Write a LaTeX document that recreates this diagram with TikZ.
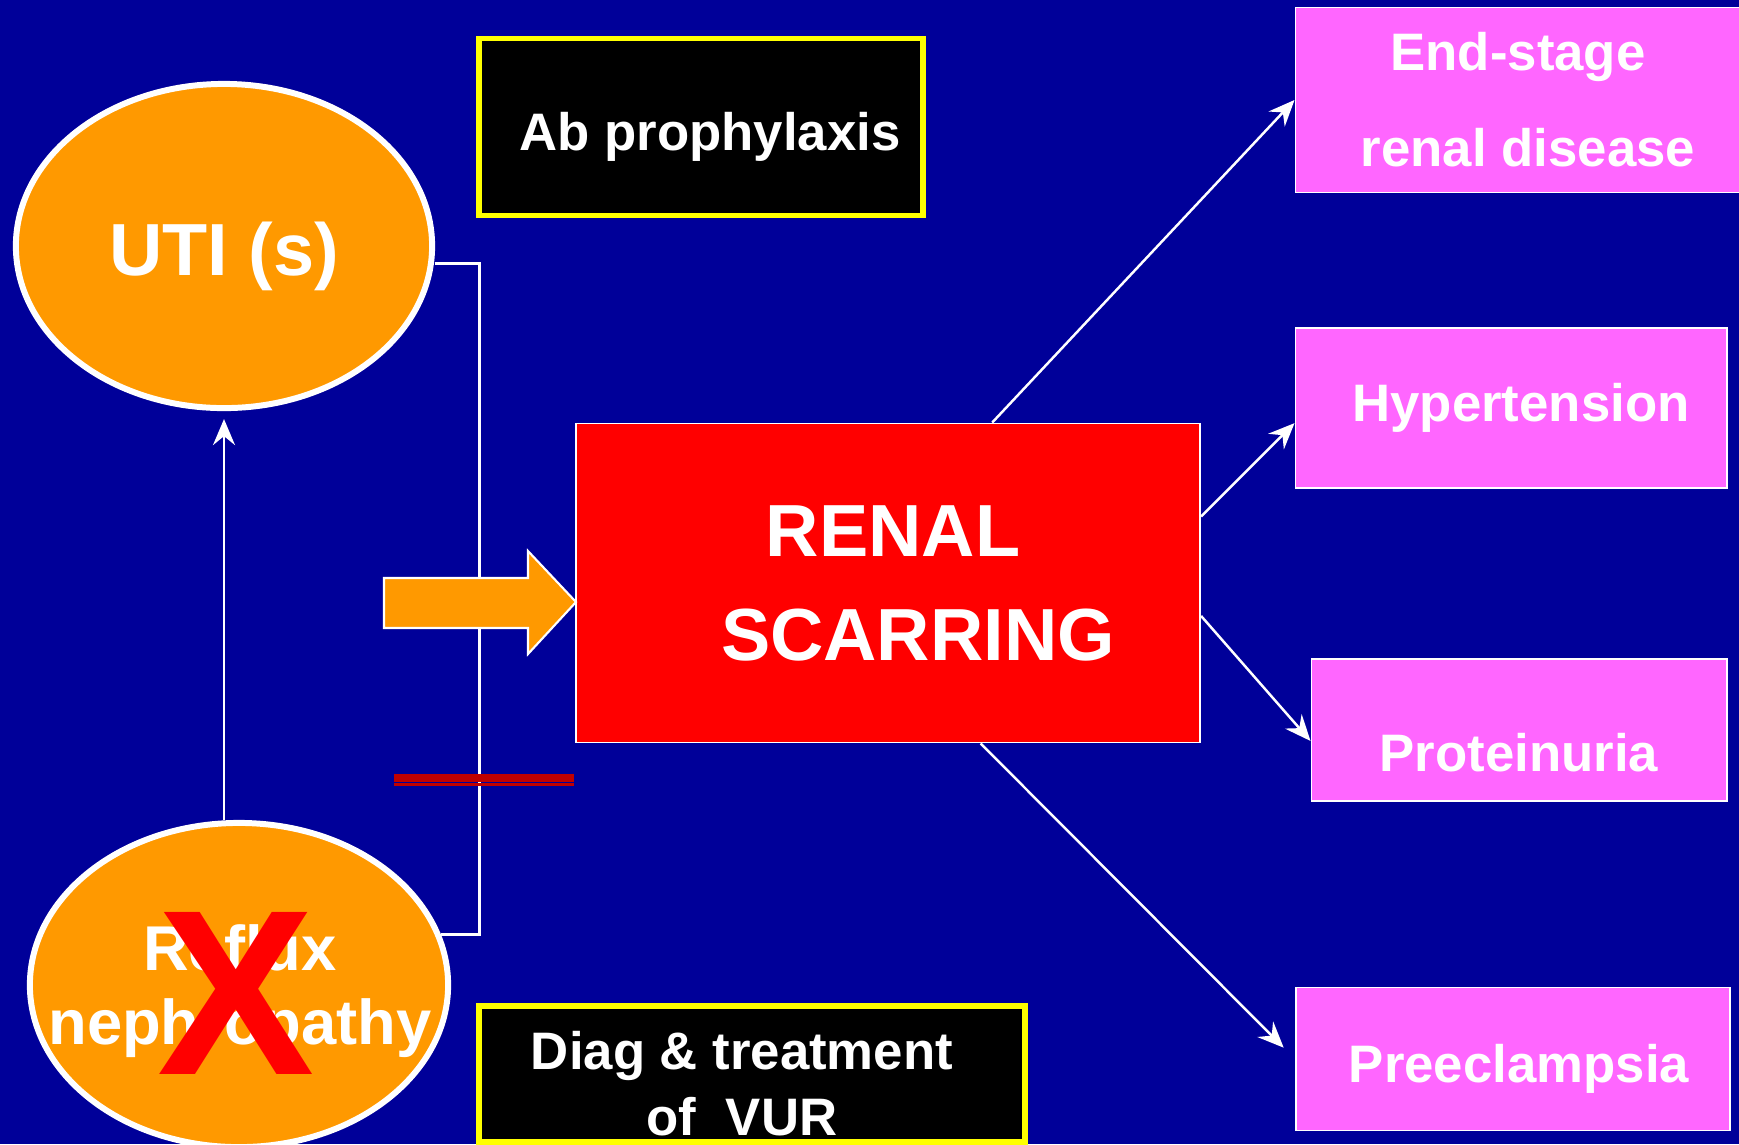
\documentclass[tikz,border=0pt]{standalone}
\usepackage{fontspec}
\setsansfont{Liberation Sans}
\usetikzlibrary{arrows.meta,positioning,calc,shapes.geometric}
\definecolor{bgblue}{HTML}{000099}
\definecolor{utiorange}{HTML}{FF9900}
\definecolor{scarred}{HTML}{FF0000}
\definecolor{sqpink}{HTML}{FF66FF}
\definecolor{barred}{HTML}{C00000}
\definecolor{boxyellow}{HTML}{FFFF00}

\begin{document}
\begin{tikzpicture}[x=0.01cm,y=-0.01cm,font=\sffamily\bfseries,
  bigtxt/.style={font=\sffamily\bfseries\fontsize{21pt}{29.6pt}\selectfont},
  boxtxt/.style={font=\sffamily\bfseries\fontsize{15pt}{18.8pt}\selectfont},
  oval/.style={ellipse,fill=utiorange,draw=white,line width=1.7pt,inner sep=0pt,text=white,align=center},
  pinkbox/.style={rectangle,fill=sqpink,draw=white,line width=0.5pt,text=white,align=center,boxtxt},
  blackbox/.style={rectangle,fill=black,draw=boxyellow,line width=1.6pt,text=white,align=center,boxtxt},
  link/.style={white,line width=0.7pt,-{Stealth[length=2.6mm,width=2.2mm,inset=0.9mm]}},
  bracket/.style={white,line width=0.85pt}]
  % background and page size
  \fill[bgblue] (0,0) rectangle (1739,1144);
  \useasboundingbox (0,0) rectangle (1739,1144);
  % left side: infections and reflux
  \node[oval,bigtxt,minimum width=4.16cm,minimum height=3.24cm,text height=0.74cm] (uti) at (224,246) {UTI (s)};
  \node[oval,minimum width=4.18cm,minimum height=3.24cm] (reflux) at (239,985) {};
  \node[text=white,align=center,inner sep=0pt,font=\sffamily\bfseries\fontsize{18pt}{21pt}\selectfont] (reflux-t) at (240,991) {Reflux\\nephropathy};
  \node[text=scarred,inner sep=0pt,font=\sffamily\bfseries\fontsize{67pt}{67pt}\selectfont] (cross) at (236,993) {X};
  \draw[link,shorten >=0.08cm] (uti.south |- reflux.north) -- (uti.south);
  \draw[bracket] (uti.east) ++(0,17) -- (479,263) |- (reflux.14);
  \draw[barred,line width=2.2pt] (394,778) -- (574,778);
  \draw[barred,line width=0.85pt] (394,784.5) -- (574,784.5);
  % interventions
  \node[blackbox,minimum width=4.44cm,minimum height=1.77cm,text height=0.57cm] (ab) at (701,127) {\rule{0.18cm}{0pt}Ab prophylaxis};
  \node[blackbox,minimum width=5.46cm,minimum height=1.36cm,inner ysep=0pt,text height=1.23cm] (diag) at (752,1074) {Diag \& treatment\rule{0.2cm}{0pt}\\of~~VUR\rule{0.2cm}{0pt}};
  % scarring and the big arrow into it
  \node[rectangle,fill=scarred,draw=white,line width=0.5pt,text=white,align=center,bigtxt,minimum width=6.24cm,minimum height=3.19cm] (scar) at (888,583) {\rule{0.1cm}{0pt}RENAL\\\rule{0.6cm}{0pt}SCARRING};
  \draw[fill=utiorange,draw=white,line width=0.6pt] (384,578) -- (528,578) -- (528,551) -- (576,602) -- (528,654) -- (528,628) -- (384,628) -- cycle;
  % outcomes
  \node[pinkbox,minimum width=4.45cm,minimum height=1.85cm,font=\sffamily\bfseries\fontsize{15pt}{27.3pt}\selectfont] (esrd) at (1518,100) {End-stage\\\rule{0.2cm}{0pt}renal disease};
  \node[pinkbox,minimum width=4.31cm,minimum height=1.6cm] (hyp) at (1511,408) {\rule{0.2cm}{0pt}Hypertension};
  \node[pinkbox,minimum width=4.15cm,minimum height=1.42cm,text height=0.82cm,text depth=0pt] (prot) at (1519,730) {Proteinuria};
  \node[pinkbox,minimum width=4.34cm,minimum height=1.43cm,text height=0.57cm] (pre) at (1513,1059) {\rule{0.12cm}{0pt}Preeclampsia};
  \draw[link] (scar.57) -- (esrd.west);
  \draw[link] (scar.12) -- (hyp.184);
  \draw[link] (scar.354) -- (prot.183);
  \draw[link,shorten >=0.16cm] (scar.300) -- (pre.west);
\end{tikzpicture}
\end{document}
